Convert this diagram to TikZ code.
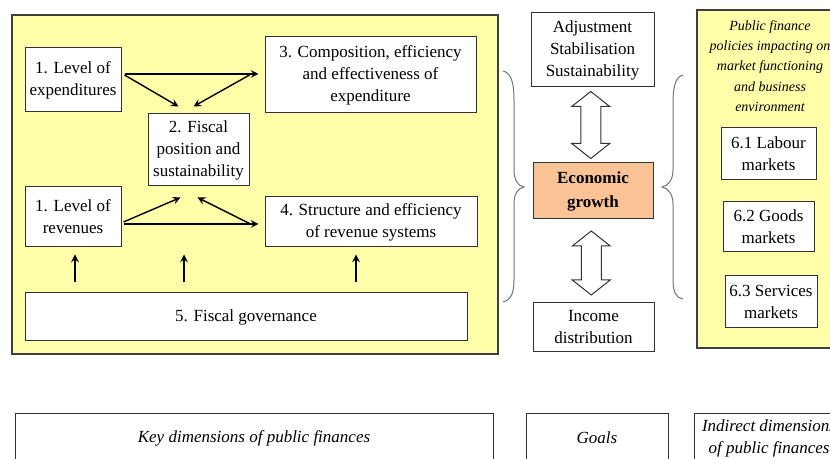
\documentclass[tikz,border=0pt]{standalone}
\usepackage{fontspec}
\setmainfont{Liberation Serif}
\usetikzlibrary{calc}

\definecolor{panelyellow}{RGB}{255,255,170}
\definecolor{growthorange}{RGB}{250,195,150}

\tikzset{
  box/.style={draw=black!80, fill=white, line width=0.5pt, align=center,
    inner sep=1pt, font=\fontsize{8.5}{11}\selectfont},
  panel/.style={draw=black!75, fill=panelyellow, line width=0.6pt},
  link/.style={-stealth, line width=0.7pt},
  brace/.style={draw=black!55, line width=0.5pt},
  caption/.style={box, font=\fontsize{8.5}{11}\selectfont\itshape},
  pics/updown/.style={code={
    \draw[fill=white, draw=black!80, line width=0.5pt]
      (0,#1) -- (19,#1-15) -- (10,#1-15) -- (10,15-#1) -- (19,15-#1)
      -- (0,-#1) -- (-19,15-#1) -- (-10,15-#1) -- (-10,#1-15)
      -- (-19,#1-15) -- cycle;}}
}

\begin{document}
\begin{tikzpicture}[x=0.5pt, y=-0.5pt]
  \clip (0,0) rectangle (830,459);

  % key dimensions
  \draw[panel] (12,15) rectangle (498,354);
  \node[box, minimum width=48pt, minimum height=32pt] (exp) at (73,80)
    {1. Level of\\expenditures};
  \node[box, minimum width=105.5pt, minimum height=38pt] (comp) at (370.5,75)
    {3. Composition, efficiency\\and effectiveness of\\expenditure};
  \node[box, minimum width=50.5pt, minimum height=36pt] (fiscal) at (198.5,150)
    {2. Fiscal\\position and\\sustainability};
  \node[box, minimum width=48pt, minimum height=30pt] (rev) at (73,217)
    {1. Level of\\revenues};
  \node[box, minimum width=106pt, minimum height=25pt] (struct) at (371,222)
    {4. Structure and efficiency\\of revenue systems};
  \node[box, minimum width=221pt, minimum height=24pt] (gov) at (246,317)
    {5. Fiscal governance};

  \draw[link] ($(exp.east)+(3,-6)$) -- ($(comp.west)+(-6,-1)$);
  \draw[link] ($(exp.east)+(3,-5)$) -- ($(fiscal.north)+(-20,-7)$);
  \draw[link] ($(comp.west)+(-15,0)$) -- ($(fiscal.north)+(-5,-7)$);
  \draw[link] ($(rev.east)+(2,7)$) -- ($(struct.west)+(-6,2)$);
  \draw[link] ($(rev.east)+(2,5)$) -- ($(fiscal.south)+(-18,11)$);
  \draw[link] ($(struct.west)+(-14,2)$) -- ($(fiscal.south)+(-1,11)$);
  \foreach \dx in {-171,-62,110}
    \draw[link] ($(gov.north)+(\dx,-10)$) -- ++(0,-28);

  % goals
  \node[box, minimum width=61.5pt, minimum height=37pt] (adj) at (592.5,50)
    {Adjustment\\Stabilisation\\Sustainability};
  \node[box, fill=growthorange, font=\fontsize{8.5}{12}\selectfont\bfseries,
    minimum width=60pt, minimum height=28pt] (growth) at (593,191)
    {Economic\\growth};
  \node[box, minimum width=60.5pt, minimum height=24.5pt] (income) at (593.5,327.5)
    {Income\\distribution};
  \pic at ($(adj.south)!0.5!(growth.north)+(-2,0)$) {updown=33.5};
  \pic at ($(growth.south)!0.5!(income.north)+(-2,2)$) {updown=32};

  \draw[brace] (503,71) .. controls (512,73) and (514,85) .. (514,100)
    -- (514,170) .. controls (514,180) and (518,186) .. (524,187)
    .. controls (518,188) and (514,194) .. (514,204)
    -- (514,280) .. controls (514,293) and (511,300) .. (503,302);
  \draw[brace] (683,75) .. controls (675,77) and (673,88) .. (673,103)
    -- (673,170) .. controls (673,180) and (668,186) .. (662,187)
    .. controls (668,188) and (673,194) .. (673,204)
    -- (673,280) .. controls (673,292) and (676,298) .. (683,299);

  % indirect dimensions
  \draw[panel] (697,10) rectangle (850,348);
  \node[align=center, font=\fontsize{7}{10.2}\selectfont\itshape] (policy) at (770,66)
    {Public finance\\policies impacting on\\market functioning\\and business\\environment};
  \node[box, minimum width=47.5pt, minimum height=26pt] (labour) at (768.5,154)
    {6.1 Labour\\markets};
  \node[box, minimum width=45.5pt, minimum height=25pt] (goods) at (768.5,227)
    {6.2 Goods\\markets};
  \node[box, minimum width=46pt, minimum height=26pt] (services) at (771,302)
    {6.3 Services\\markets};

  % captions
  \node[caption, minimum width=239pt, minimum height=24pt] (keycap) at (254,438)
    {Key dimensions of public finances};
  \node[caption, minimum width=71pt, minimum height=24pt] (goalcap) at (597,438)
    {Goals};
  \node[caption, minimum width=75pt, minimum height=24pt] (indcap) at (769,438)
    {Indirect dimensions\\of public finances};
\end{tikzpicture}
\end{document}
